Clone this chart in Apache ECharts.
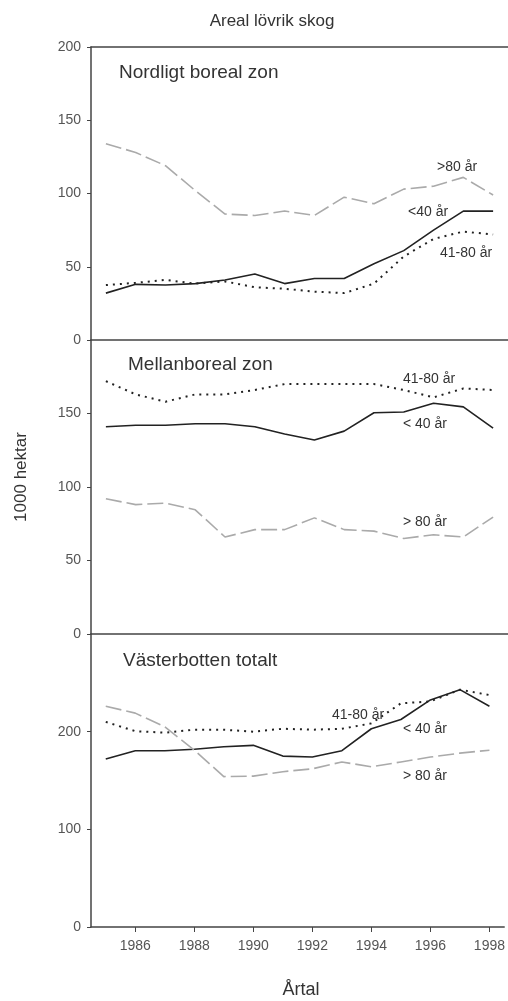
<!DOCTYPE html>
<html>
<head>
<meta charset="utf-8">
<script src="https://cdn.jsdelivr.net/npm/echarts@6/dist/echarts.min.js"></script>
<style>
  html, body { margin: 0; padding: 0; background: #fff; }
  #chart { width: 508px; height: 1001px; }
</style>
</head>
<body>
<div id="chart"></div>
<script>
// years on the x axis
var years = [1985, 1986, 1987, 1988, 1989, 1990, 1991, 1992, 1993, 1994, 1995, 1996, 1997, 1998];
var yearTicks = [1986, 1988, 1990, 1992, 1994, 1996, 1998];

// Nordligt boreal zon
var nordUnder40 = [32, 38, 37.5, 38.5, 41, 45, 38.5, 42, 42, 52, 61, 75, 88, 88];
var nord41to80 = [37.5, 39, 41, 38.5, 40, 36, 35, 33, 32, 38.5, 57, 69, 74, 72];
var nordOver80 = [134, 128, 119, 102, 86, 85, 88, 85, 97.5, 93, 103, 105, 111, 99];

// Mellanboreal zon
var mellUnder40 = [141, 142, 142, 143, 143, 141, 136, 132, 138, 150.5, 151, 157, 154.5, 140];
var mell41to80 = [172, 163, 158, 163, 163, 166, 170, 170, 170, 170, 166, 161, 167, 166];
var mellOver80 = [92, 88, 89, 84.5, 66, 71, 71, 79, 71, 70, 65, 67.5, 66, 79.5];

// Västerbotten totalt
var totUnder40 = [172, 180.5, 180.5, 182, 184.5, 186, 175, 174, 180.5, 203, 212.5, 232.5, 243, 226];
var tot41to80 = [210, 200.5, 199, 202, 202, 200, 203, 202, 203, 208.5, 229, 231, 243, 237.5];
var totOver80 = [226, 219, 205, 181, 154, 154.5, 159, 162, 169, 164, 169, 174, 178, 181];

var FONT = '"Liberation Sans", Arial, sans-serif';
var TXT = '#333';

function pairs(vals) {
    return years.map(function (y, i) { return [y, vals[i]]; });
}

var grids = [
    {left: 91, right: 0, top: 47, height: 293},
    {left: 91, right: 0, top: 340, height: 294},
    {left: 91, right: 0, top: 634, height: 293}
];

var axisLine = {show: true, onZero: false, lineStyle: {color: '#444', width: 1.5}};

var xAxes = [0, 1, 2].map(function (g) {
    return {
        type: 'value', gridIndex: g, min: 1984.5, max: 1998.5,
        axisLine: axisLine,
        splitLine: {show: false},
        axisTick: {show: g === 2, length: 5, customValues: yearTicks, lineStyle: {color: '#444'}},
        axisLabel: {
            show: g === 2, customValues: yearTicks, margin: 12,
            formatter: function (v) { return String(v); },
            fontFamily: FONT, fontSize: 14, color: '#555'
        }
    };
});
// top border of first panel
xAxes.push({
    type: 'value', gridIndex: 0, position: 'top', min: 1984.5, max: 1998.5,
    axisLine: axisLine, axisTick: {show: false}, axisLabel: {show: false}, splitLine: {show: false}
});

var yMax = [200, 200, 300];
var yInt = [50, 50, 100];
var yAxes = [0, 1, 2].map(function (g) {
    return {
        type: 'value', gridIndex: g, min: 0, max: yMax[g], interval: yInt[g],
        axisLine: axisLine,
        splitLine: {show: false},
        axisTick: {show: true, length: 4, lineStyle: {color: '#444'}},
        axisLabel: {
            showMaxLabel: g === 0, margin: 10,
            fontFamily: FONT, fontSize: 14, color: '#555'
        }
    };
});

function solid(g, vals, name) {
    return {name: name, type: 'line', xAxisIndex: g, yAxisIndex: g, data: pairs(vals),
        showSymbol: false, lineStyle: {color: '#222', width: 1.6, type: 'solid'}};
}
function dotted(g, vals, name) {
    return {name: name, type: 'line', xAxisIndex: g, yAxisIndex: g, data: pairs(vals),
        showSymbol: false, lineStyle: {color: '#222', width: 2, type: [2, 5]}};
}
function dashed(g, vals, name) {
    return {name: name, type: 'line', xAxisIndex: g, yAxisIndex: g, data: pairs(vals),
        showSymbol: false, lineStyle: {color: '#aaa', width: 1.6, type: [16, 5]}};
}

function txt(s, x, y, size, extra) {
    var st = {text: s, x: x, y: y, font: size + 'px ' + FONT, fill: TXT,
        textAlign: 'left', textVerticalAlign: 'middle'};
    if (extra) for (var k in extra) st[k] = extra[k];
    return {type: 'text', style: st, z: 100};
}

var option = {
    backgroundColor: '#fff',
    animation: false,
    grid: grids,
    xAxis: xAxes,
    yAxis: yAxes,
    series: [
        solid(0, nordUnder40, '<40 år'), dotted(0, nord41to80, '41-80 år'), dashed(0, nordOver80, '>80 år'),
        solid(1, mellUnder40, '< 40 år'), dotted(1, mell41to80, '41-80 år'), dashed(1, mellOver80, '> 80 år'),
        solid(2, totUnder40, '< 40 år'), dotted(2, tot41to80, '41-80 år'), dashed(2, totOver80, '> 80 år')
    ],
    graphic: [
        txt('Areal lövrik skog', 272, 21, 17, {textAlign: 'center'}),
        txt('Årtal', 301, 990, 18, {textAlign: 'center'}),
        {type: 'text', x: 21, y: 477, rotation: Math.PI / 2, z: 100,
            style: {text: '1000 hektar', font: '17px ' + FONT, fill: TXT,
                textAlign: 'center', textVerticalAlign: 'middle'}},
        txt('Nordligt boreal zon', 119, 73, 19),
        txt('Mellanboreal zon', 128, 365, 19),
        txt('Västerbotten totalt', 123, 661, 19),
        txt('>80 år', 437, 167, 14),
        txt('<40 år', 408, 212, 14),
        txt('41-80 år', 440, 253, 14),
        txt('41-80 år', 403, 379, 14),
        txt('< 40 år', 403, 424, 14),
        txt('> 80 år', 403, 522, 14),
        txt('41-80 år', 332, 715, 14),
        txt('< 40 år', 403, 729, 14),
        txt('> 80 år', 403, 776, 14)
    ]
};

var myChart = echarts.init(document.getElementById('chart'));
myChart.setOption(option);
</script>
</body>
</html>
